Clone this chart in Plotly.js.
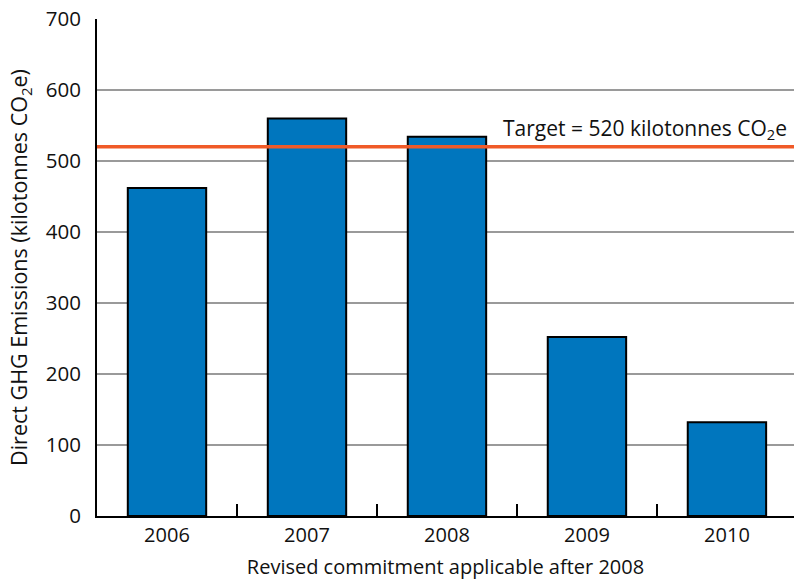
<!DOCTYPE html>
<html>
<head>
<meta charset="utf-8">
<script src="https://cdn.plot.ly/plotly-3.0.1.min.js"></script>
<style>html,body{margin:0;padding:0;background:#fff;}#chart{width:794px;height:580px;}</style>
</head>
<body>
<div id="chart"></div>
<script>
const years = ["2006", "2007", "2008", "2009", "2010"];
const emissions = [462, 560, 534, 252, 132];
const targetValue = 520;
const targetLabel = "Target = 520 kilotonnes CO<sub>2</sub>e";
const yTicks = [0, 100, 200, 300, 400, 500, 600, 700];

const FONT = "'Open Sans', sans-serif";

const trace = {
  type: "bar",
  x: years,
  y: emissions,
  width: 0.56,
  marker: {color: "#0076BE", line: {color: "#000", width: 2}},
  hoverinfo: "x+y"
};

const layout = {
  width: 794, height: 580,
  margin: {l: 97, r: 0, t: 19, b: 64},
  paper_bgcolor: "#fff", plot_bgcolor: "#fff",
  font: {family: FONT, color: "#111"},
  showlegend: false,
  bargap: 0.44,
  xaxis: {
    type: "category",
    range: [-0.5, 4.479],
    showline: true, linecolor: "#000", linewidth: 2,
    ticks: "inside", tickson: "boundaries", ticklen: 12, tickwidth: 2, tickcolor: "#000",
    showgrid: false, zeroline: false,
    tickfont: {size: 20, family: FONT, color: "#111"},
    title: {text: "Revised commitment applicable after 2008", font: {size: 20, family: FONT, color: "#111"}, standoff: 13}
  },
  yaxis: {
    range: [0, 700],
    tickvals: yTicks,
    showline: true, linecolor: "#000", linewidth: 2,
    ticks: "", ticklabelstandoff: 10,
    showgrid: true, gridcolor: "#9a9a9a", gridwidth: 2,
    zeroline: false,
    tickfont: {size: 20.5, family: FONT, color: "#111"},
    title: {text: "Direct GHG Emissions (kilotonnes CO<sub>2</sub>e)", font: {size: 21.5, family: FONT, color: "#111"}, standoff: 12}
  },
  shapes: [{
    type: "line", xref: "paper", x0: 0, x1: 1, yref: "y", y0: targetValue, y1: targetValue,
    line: {color: "#F05A28", width: 3.5}
  }],
  annotations: [{
    xref: "paper", x: 1, xanchor: "right", xshift: -5,
    yref: "y", y: targetValue, yanchor: "bottom", yshift: 1,
    text: targetLabel, showarrow: false,
    font: {size: 21, family: FONT, color: "#111"}
  }]
};

Plotly.newPlot("chart", [trace], layout, {displayModeBar: false, staticPlot: true});
</script>
</body>
</html>
